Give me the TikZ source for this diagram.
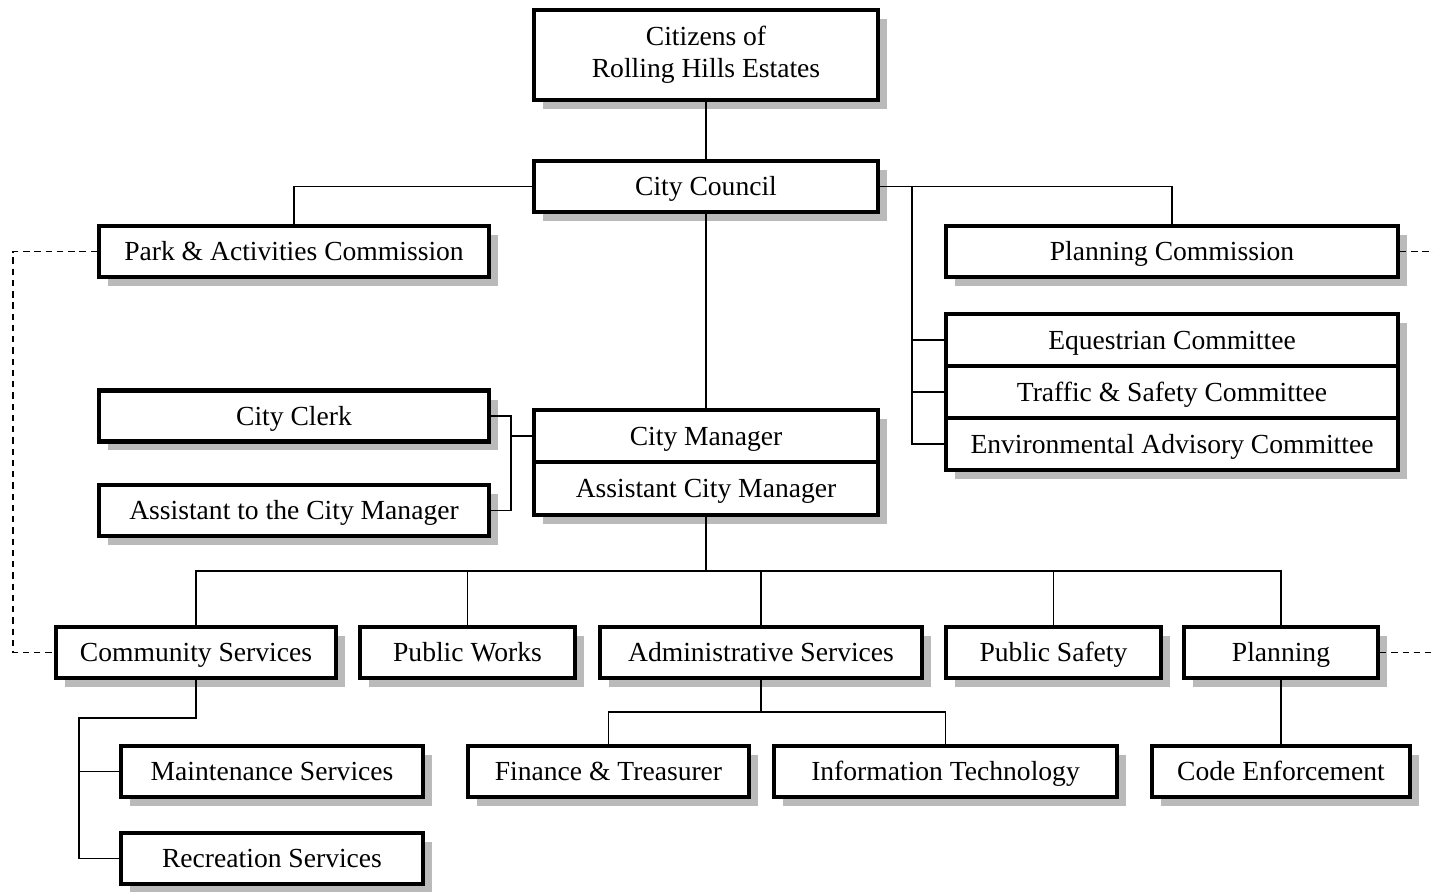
\documentclass[tikz,border=0pt]{standalone}
\usepackage{fontspec}
\setmainfont{Liberation Serif}
\usepackage{tikz}
\usetikzlibrary{shadows, positioning}
\colorlet{colorShadow}{black!27}
\colorlet{colorLink}{black}
\tikzset{office/.style={draw, fill=white, line width=2.3pt, inner sep=0pt, minimum height=1.02cm, text height=10.4pt, text depth=0pt, align=center, font=\fontsize{15.7}{18.2}\selectfont, drop shadow={shadow xshift=0.18cm, shadow yshift=-0.18cm, fill=colorShadow, opacity=1}}}

\begin{document}
\begin{tikzpicture}[x=0.02cm, y=-0.02cm, line width=1.1pt, every path/.style={colorLink}]
\useasboundingbox (0,0) rectangle (1434,892);
\node[office, minimum width=6.9cm, minimum height=1.8cm, text height={}, text depth={}] (cit) at (706,55) {Citizens of\\Rolling Hills Estates};
\node[office, minimum width=6.9cm] (cc) at (706,186.5) {City Council};
\node[office, minimum width=7.8cm] (pac) at (294,251.5) {Park \& Activities Commission};
\node[office, minimum width=9.04cm] (pc) at (1172,251.5) {Planning Commission};
\node[office, minimum width=9.04cm, minimum height=1.04cm] (eq) at (1172,340) {Equestrian Committee};
\node[office, minimum width=9.04cm, minimum height=1.04cm, below=-2.3pt of eq] (ts) {Traffic \& Safety Committee};
\node[office, minimum width=9.04cm, minimum height=1.04cm, below=-2.3pt of ts] (ea) {Environmental Advisory Committee};
\node[office, minimum width=7.8cm] (clk) at (294,416) {City Clerk};
\node[office, minimum width=7.8cm] (atcm) at (294,510.5) {Assistant to the City Manager};
\node[office, minimum width=6.9cm, minimum height=1.05cm] (cm) at (706,436) {City Manager};
\node[office, minimum width=6.9cm, minimum height=1.05cm, below=-2.3pt of cm] (acm) {Assistant City Manager};
\node[office, minimum width=5.6cm] (cs) at (196,652.5) {Community Services};
\node[office, minimum width=4.3cm] (pw) at (467.5,652.5) {Public Works};
\node[office, minimum width=6.44cm] (as) at (761,652.5) {Administrative Services};
\node[office, minimum width=4.3cm] (ps) at (1053.5,652.5) {Public Safety};
\node[office, minimum width=3.88cm] (pl) at (1281,652.5) {Planning};
\node[office, minimum width=6.04cm] (ms) at (272,771.5) {Maintenance Services};
\node[office, minimum width=6.04cm] (rs) at (272,858.5) {Recreation Services};
\node[office, minimum width=5.62cm] (ft) at (608.5,771.5) {Finance \& Treasurer};
\node[office, minimum width=6.86cm] (it) at (945.5,771.5) {Information Technology};
\node[office, minimum width=5.16cm] (ce) at (1281,771.5) {Code Enforcement};
\coordinate (cmj) at (912,186.5);
\coordinate (bus) at (706,571);
\coordinate (csj) at (79,718);
\coordinate (asj) at (761,712);
\coordinate (pcx) at (1434,251.5);
\coordinate (plx) at (1434,652.5);
\draw (cit) -- (cc);
\draw (cc.west) -| (pac.north);
\draw (cc.east) -| (pc.north);
\draw (cmj) |- (ea.west);
\draw (eq.west) -- (eq.west -| cmj);
\draw (ts.west) -- (ts.west -| cmj);
\draw (cc) -- (cm);
\draw (clk.east) -- ++(20,0) |- (atcm.east);
\draw (cm.west) -- ++(-21,0);
\draw (acm) -- (bus);
\draw (cs.north) |- (bus) -| (pl.north);
\draw (pw.north) -- (pw.north |- bus);
\draw (as.north) -- (as.north |- bus);
\draw (ps.north) -- (ps.north |- bus);
\draw (cs.south) |- (csj) |- (rs.west);
\draw (ms.west) -- (ms.west -| csj);
\draw (as.south) -- (asj);
\draw (ft.north) |- (asj) -| (it.north);
\draw (pl) -- (ce);
\draw [dashed, dash pattern=on 3.6pt off 2.8pt] (pac.west) -- ++(-84,0) |- (cs.west);
\draw [dashed, dash pattern=on 3.6pt off 2.8pt] (pc.east) -- (pcx);
\draw [dashed, dash pattern=on 3.6pt off 2.8pt] (pl.east) -- (plx);
\end{tikzpicture}
\end{document}
